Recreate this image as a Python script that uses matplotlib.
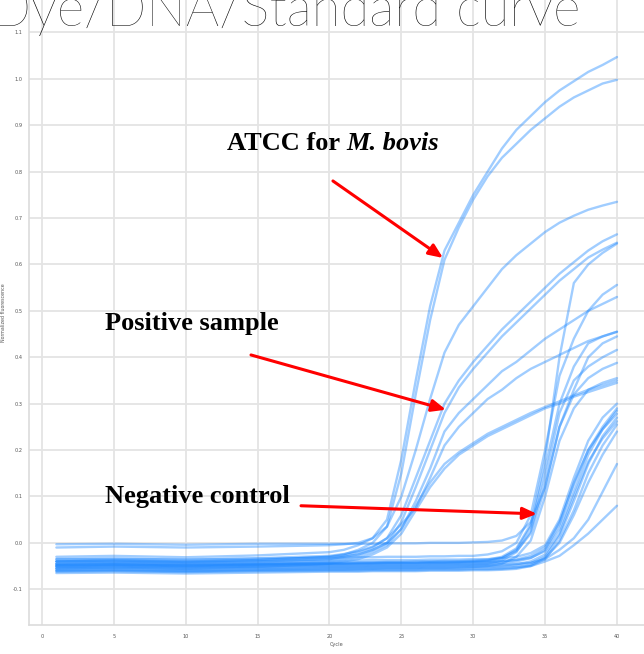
import matplotlib
matplotlib.use("Agg")
import matplotlib.pyplot as plt

# ---------------- data ----------------
cycles = [1, 5, 10, 15, 20, 21, 22, 23, 24, 25, 26, 27, 28, 29, 30,
          31, 32, 33, 34, 35, 36, 37, 38, 39, 40]

# ATCC for M. bovis (standard)
atcc_1 = [-0.030, -0.028, -0.031, -0.027, -0.020, -0.015, -0.005, 0.010, 0.050, 0.180, 0.350, 0.510, 0.630, 0.690, 0.750, 0.800, 0.850, 0.890, 0.920, 0.950, 0.975, 0.995, 1.015, 1.030, 1.047]
atcc_2 = [-0.040, -0.038, -0.041, -0.037, -0.030, -0.025, -0.015, 0.000, 0.035, 0.150, 0.320, 0.480, 0.610, 0.680, 0.740, 0.790, 0.830, 0.860, 0.890, 0.915, 0.940, 0.960, 0.975, 0.990, 0.998]

# positive samples
pos_1 = [-0.010, -0.008, -0.010, -0.008, -0.005, -0.003, 0.000, 0.010, 0.035, 0.100, 0.200, 0.310, 0.410, 0.470, 0.510, 0.550, 0.590, 0.620, 0.645, 0.670, 0.690, 0.705, 0.718, 0.727, 0.735]
pos_2 = [-0.040, -0.038, -0.040, -0.037, -0.030, -0.027, -0.020, -0.010, 0.010, 0.060, 0.140, 0.220, 0.300, 0.350, 0.390, 0.425, 0.460, 0.490, 0.520, 0.550, 0.580, 0.605, 0.630, 0.650, 0.665]
pos_3 = [-0.045, -0.043, -0.045, -0.042, -0.035, -0.030, -0.025, -0.015, 0.000, 0.045, 0.120, 0.200, 0.280, 0.335, 0.375, 0.410, 0.445, 0.475, 0.505, 0.535, 0.565, 0.590, 0.615, 0.632, 0.647]
pos_4 = [-0.040, -0.040, -0.042, -0.040, -0.035, -0.030, -0.025, -0.015, 0.000, 0.030, 0.090, 0.160, 0.240, 0.280, 0.310, 0.340, 0.370, 0.390, 0.415, 0.440, 0.460, 0.480, 0.500, 0.515, 0.530]
pos_5 = [-0.050, -0.048, -0.050, -0.047, -0.040, -0.035, -0.030, -0.020, -0.005, 0.030, 0.080, 0.130, 0.170, 0.195, 0.215, 0.235, 0.250, 0.265, 0.280, 0.293, 0.305, 0.318, 0.330, 0.340, 0.350]
pos_6 = [-0.055, -0.053, -0.055, -0.052, -0.045, -0.040, -0.035, -0.025, -0.010, 0.020, 0.070, 0.120, 0.160, 0.190, 0.210, 0.230, 0.245, 0.260, 0.275, 0.290, 0.300, 0.315, 0.325, 0.335, 0.345]
pos_7 = [-0.035, -0.034, -0.036, -0.033, -0.028, -0.024, -0.018, -0.008, 0.010, 0.040, 0.075, 0.140, 0.210, 0.250, 0.280, 0.310, 0.330, 0.355, 0.375, 0.390, 0.405, 0.420, 0.435, 0.445, 0.455]

# late / negative-control region curves
late_1 = [-0.045, -0.044, -0.046, -0.045, -0.043, -0.043, -0.042, -0.042, -0.041, -0.041, -0.040, -0.040, -0.039, -0.039, -0.038, -0.036, -0.030, -0.012, 0.040, 0.180, 0.400, 0.560, 0.600, 0.625, 0.645]
late_2 = [-0.035, -0.034, -0.036, -0.034, -0.032, -0.032, -0.031, -0.031, -0.030, -0.030, -0.030, -0.029, -0.029, -0.028, -0.028, -0.025, -0.018, 0.000, 0.060, 0.200, 0.360, 0.440, 0.500, 0.535, 0.556]
late_3 = [-0.050, -0.049, -0.051, -0.049, -0.047, -0.047, -0.046, -0.046, -0.045, -0.045, -0.045, -0.044, -0.044, -0.043, -0.042, -0.040, -0.033, -0.015, 0.035, 0.160, 0.300, 0.380, 0.430, 0.445, 0.455]
late_4 = [-0.055, -0.054, -0.056, -0.054, -0.052, -0.052, -0.051, -0.051, -0.050, -0.050, -0.050, -0.049, -0.049, -0.048, -0.047, -0.045, -0.038, -0.020, 0.025, 0.140, 0.280, 0.350, 0.380, 0.400, 0.416]
late_5 = [-0.048, -0.047, -0.049, -0.047, -0.045, -0.045, -0.044, -0.044, -0.043, -0.043, -0.043, -0.042, -0.042, -0.041, -0.040, -0.038, -0.032, -0.018, 0.020, 0.120, 0.250, 0.320, 0.355, 0.375, 0.388]
late_6 = [-0.060, -0.059, -0.061, -0.059, -0.057, -0.057, -0.056, -0.056, -0.055, -0.055, -0.055, -0.054, -0.054, -0.053, -0.052, -0.050, -0.045, -0.030, 0.005, 0.100, 0.220, 0.290, 0.330, 0.345, 0.355]
late_7 = [-0.003, -0.002, -0.004, -0.002, -0.002, -0.002, -0.002, -0.002, -0.001, -0.001, -0.001, 0.000, 0.000, 0.000, 0.001, 0.002, 0.005, 0.015, 0.045, 0.120, 0.250, 0.330, 0.400, 0.430, 0.445]
late_8 = [-0.045, -0.044, -0.046, -0.044, -0.043, -0.043, -0.043, -0.042, -0.042, -0.042, -0.042, -0.041, -0.041, -0.041, -0.040, -0.040, -0.039, -0.037, -0.032, -0.018, 0.030, 0.110, 0.190, 0.245, 0.285]
late_9 = [-0.058, -0.057, -0.059, -0.057, -0.055, -0.055, -0.055, -0.054, -0.054, -0.054, -0.054, -0.053, -0.053, -0.053, -0.052, -0.052, -0.051, -0.049, -0.044, -0.030, 0.015, 0.090, 0.170, 0.230, 0.270]
late_10 = [-0.050, -0.049, -0.051, -0.049, -0.048, -0.048, -0.048, -0.047, -0.047, -0.047, -0.047, -0.046, -0.046, -0.046, -0.045, -0.045, -0.043, -0.040, -0.033, -0.015, 0.040, 0.130, 0.200, 0.250, 0.290]
late_11 = [-0.065, -0.064, -0.066, -0.064, -0.062, -0.062, -0.062, -0.061, -0.061, -0.061, -0.061, -0.060, -0.060, -0.060, -0.059, -0.059, -0.058, -0.056, -0.050, -0.035, 0.005, 0.070, 0.150, 0.210, 0.255]
late_12 = [-0.062, -0.061, -0.063, -0.061, -0.060, -0.060, -0.060, -0.059, -0.059, -0.059, -0.059, -0.058, -0.058, -0.058, -0.057, -0.057, -0.056, -0.054, -0.048, -0.032, 0.000, 0.060, 0.130, 0.190, 0.240]
late_13 = [-0.040, -0.039, -0.041, -0.039, -0.038, -0.038, -0.038, -0.037, -0.037, -0.037, -0.037, -0.036, -0.036, -0.036, -0.035, -0.035, -0.033, -0.030, -0.022, -0.005, 0.050, 0.140, 0.220, 0.270, 0.300]
late_14 = [-0.052, -0.051, -0.053, -0.051, -0.050, -0.050, -0.050, -0.049, -0.049, -0.049, -0.049, -0.048, -0.048, -0.048, -0.047, -0.047, -0.046, -0.045, -0.043, -0.035, -0.015, 0.010, 0.050, 0.110, 0.170]
late_15 = [-0.060, -0.059, -0.061, -0.059, -0.058, -0.058, -0.058, -0.057, -0.057, -0.057, -0.057, -0.056, -0.056, -0.056, -0.055, -0.055, -0.054, -0.052, -0.050, -0.040, -0.028, -0.005, 0.020, 0.050, 0.080]
late_16 = [-0.055, -0.054, -0.056, -0.054, -0.053, -0.053, -0.053, -0.052, -0.052, -0.052, -0.052, -0.051, -0.051, -0.051, -0.050, -0.050, -0.049, -0.046, -0.040, -0.025, 0.020, 0.100, 0.175, 0.225, 0.262]
late_17 = [-0.047, -0.046, -0.048, -0.046, -0.045, -0.045, -0.045, -0.044, -0.044, -0.044, -0.044, -0.043, -0.043, -0.043, -0.042, -0.042, -0.040, -0.036, -0.028, -0.010, 0.045, 0.125, 0.200, 0.245, 0.278]

all_curves = [atcc_1, atcc_2, pos_1, pos_2, pos_3, pos_4, pos_5, pos_6, pos_7,
              late_1, late_2, late_3, late_4, late_5, late_6, late_7, late_8,
              late_9, late_10, late_11, late_12, late_13, late_14, late_15,
              late_16, late_17]

x_ticks = [0, 5, 10, 15, 20, 25, 30, 35, 40]
y_ticks = [-0.1, 0.0, 0.1, 0.2, 0.3, 0.4, 0.5, 0.6, 0.7, 0.8, 0.9, 1.0, 1.1]

title_text = "Dye/DNA/Standard curve"
label_atcc = "ATCC for "
label_atcc_it = "M. bovis"
label_pos = "Positive sample"
label_neg = "Negative control"

# ---------------- figure ----------------
W, H = 644, 654
fig = plt.figure(figsize=(W / 100, H / 100), dpi=100)
fig.patch.set_facecolor("white")
ax = fig.add_axes([29 / W, (H - 625) / H, (W - 29) / W, 625 / H])
ax.set_xlim(-0.904, 41.88)
ax.set_ylim(-0.177, 1.170)

for c in all_curves:
    ax.plot(cycles, c, color="#1E88FF", alpha=0.42, lw=1.7,
            solid_joinstyle="round", solid_capstyle="round", zorder=3)

ax.set_xticks(x_ticks)
ax.set_yticks(y_ticks)
ax.set_yticklabels([f"{v:.1f}" for v in y_ticks])
ax.grid(True, color="#e4e4e4", lw=1.3, zorder=0)
ax.set_axisbelow(True)
for s in ["top", "right"]:
    ax.spines[s].set_visible(False)
for s in ["left", "bottom"]:
    ax.spines[s].set_color("#dcdcdc")
    ax.spines[s].set_linewidth(1.2)
ax.tick_params(axis="both", length=0, labelsize=3.6, labelcolor="#555555")
ax.tick_params(axis="y", pad=4.5)
ax.tick_params(axis="x", pad=6.5)
ax.set_xlabel("Cycle", fontsize=3.6, color="#555555", labelpad=2)
ax.set_ylabel("Normalized fluorescence", fontsize=3.4, color="#555555", labelpad=5)

# cropped slide title at the very top
fig.text(-9 / W, 1 - 26 / H, title_text, fontsize=38, family="Lato",
         fontweight="light", color="black", va="baseline", ha="left")

# annotations
serif = "Liberation Serif"
fs = 19
t1 = ax.text(12.87, 0.847, label_atcc, family=serif, fontweight="bold",
             fontsize=fs, color="black", va="baseline", ha="left", zorder=5)
ax.annotate(label_atcc_it, xy=(1, 0), xycoords=t1, va="bottom", ha="left",
            family=serif, fontweight="bold", fontstyle="italic",
            fontsize=fs, color="black", zorder=5)
ax.text(4.38, 0.459, label_pos, family=serif, fontweight="bold",
        fontsize=fs, color="black", va="baseline", ha="left", zorder=5)
ax.text(4.38, 0.086, label_neg, family=serif, fontweight="bold",
        fontsize=fs, color="black", va="baseline", ha="left", zorder=5)

arrow_kw = dict(arrowstyle="-|>,head_length=0.7,head_width=0.3", color="#ff0000",
                lw=2.2, shrinkA=0, shrinkB=0, mutation_scale=12)
ax.annotate("", xy=(27.9, 0.614), xytext=(20.24, 0.780), arrowprops=arrow_kw, zorder=6)
ax.annotate("", xy=(28.1, 0.287), xytext=(14.54, 0.405), arrowprops=arrow_kw, zorder=6)
ax.annotate("", xy=(34.43, 0.0625), xytext=(18.02, 0.080), arrowprops=arrow_kw, zorder=6)

fig.savefig("out.png", dpi=100, facecolor="white")
